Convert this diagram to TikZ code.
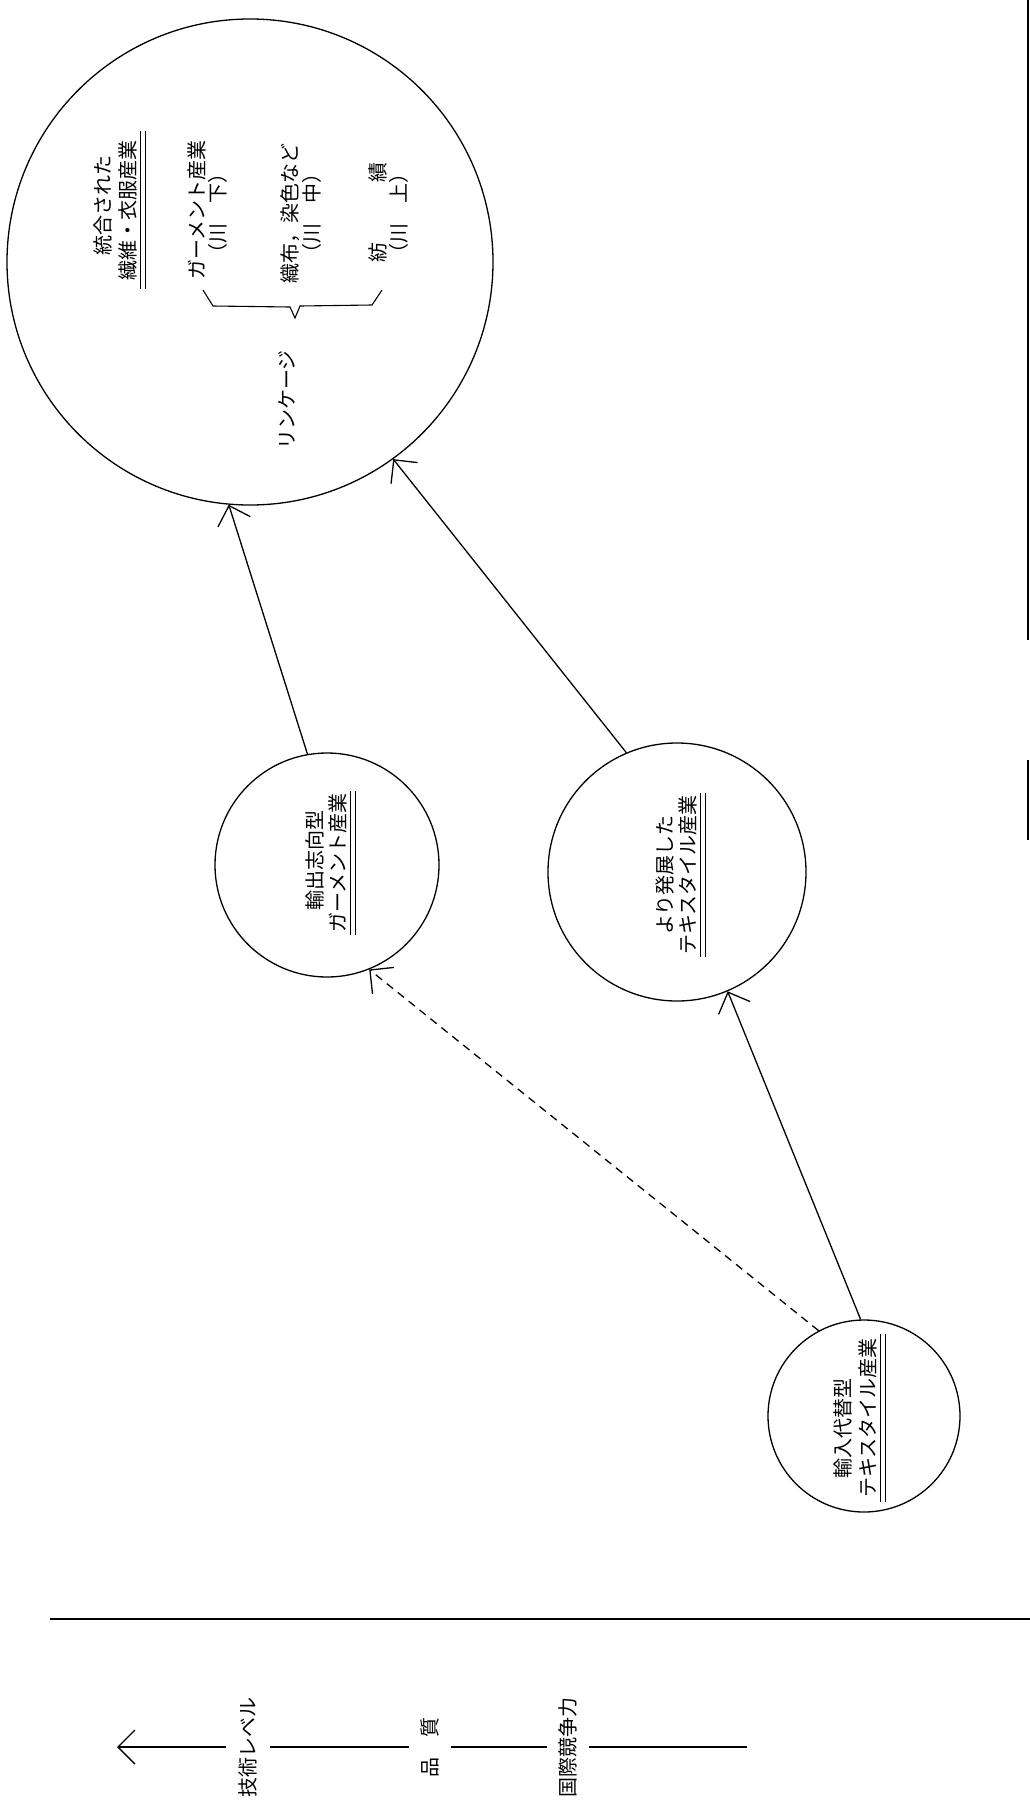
\documentclass[tikz,border=0pt]{standalone}
\usepackage{fontspec}
\setmainfont{Noto Sans CJK JP}
\usetikzlibrary{arrows.meta,calc}
\newcommand\dblul[2]{%
  \draw[uline] ($(#1.south west)+(2,#2)$) -- ($(#1.south east)+(2,-#2)$);
  \draw[uline] ($(#1.south west)+(7,#2)$) -- ($(#1.south east)+(7,-#2)$);}
\begin{document}
\begin{tikzpicture}[x=1pt,y=-1pt,
  ring/.style={circle,draw,line width=1.3pt,inner sep=0pt},
  vtext/.style={rotate=90,font=\fontsize{20}{24}\selectfont,inner sep=1pt},
  uline/.style={line width=1.1pt},
  link/.style={line width=1.3pt,-{Straight Barb[angle=90:24pt]}},
  dlink/.style={link,dash pattern=on 8pt off 6pt}]
\fill[white] (0,0) rectangle (1030,1815);
\useasboundingbox (0,0) rectangle (1030,1815);

% circles
\node[ring,minimum size=486pt] (big) at (250,262) {};
\node[ring,minimum size=224pt] (exp) at (327,865) {};
\node[ring,minimum size=258pt] (tex) at (677,872) {};
\node[ring,minimum size=192pt] (imp) at (864,1416) {};

% big circle text
\node[vtext] (b1) at (103,205) {統合された};
\node[vtext] (b2) at (128,210) {繊維・衣服産業};
\dblul{b2}{8}
\node[vtext] (c1) at (197,210) {ガーメント産業};
\node[vtext] (c1p) at (218,213) {（川　下）};
\node[vtext] (c2) at (290,213) {織布，染色など};
\node[vtext] (c2p) at (312,213) {（川　中）};
\node[vtext] (c3) at (378,212) {紡　　　績};
\node[vtext] (c3p) at (399,213) {（川　上）};
\node[vtext] (lk) at (287,400) {リンケージ};
\draw[line width=1.1pt] (203,290) -- (213,306) -- (290,307) -- (295,318)
  -- (300,306) -- (372,305) -- (382,290);

% export circle text
\node[vtext] (e1) at (315,860) {輸出志向型};
\node[vtext] (e2) at (338,863) {ガーメント産業};
\dblul{e2}{1}

% textile circle text
\node[vtext] (t1) at (665,875) {より発展した};
\node[vtext] (t2) at (688,875) {テキスタイル産業};
\dblul{t2}{1}

% import circle text
\node[vtext] (i1) at (843,1428) {輸入代替型};
\node[vtext] (i2) at (868,1418) {テキスタイル産業};
\dblul{i2}{3}

% connectors
\draw[link] (exp.100) -- (big.265);
\draw[link] (tex.113) -- (big.-54);
\draw[link] (imp.92) -- (tex.-67);
\draw[dlink] (imp.118) -- (exp.-68);

% bottom rule
\coordinate (r1) at (50,1619);
\coordinate (r2) at (1030,1619);
\draw[line width=2.5pt] (r1) -- (r2);

% page edge
\coordinate (p1) at (1028,0);
\coordinate (p2) at (1028,640);
\coordinate (p3) at (1028,760);
\coordinate (p4) at (1028,840);
\draw[line width=2.5pt] (p1) -- (p2) (p3) -- (p4);

% axis
\coordinate (axend) at (747,1747);
\coordinate (axtip) at (117,1747);
\node[vtext,inner ysep=13pt] (a1) at (248,1747) {技術レベル};
\node[vtext,inner ysep=12pt] (a2) at (430,1747) {品　質};
\node[vtext,inner ysep=12pt] (a3) at (568,1747) {国際競争力};
\draw[line width=1.3pt] (axend) -- (a3) -- (a2) -- (a1);
\draw[link] (a1) -- (axtip);
\end{tikzpicture}
\end{document}
